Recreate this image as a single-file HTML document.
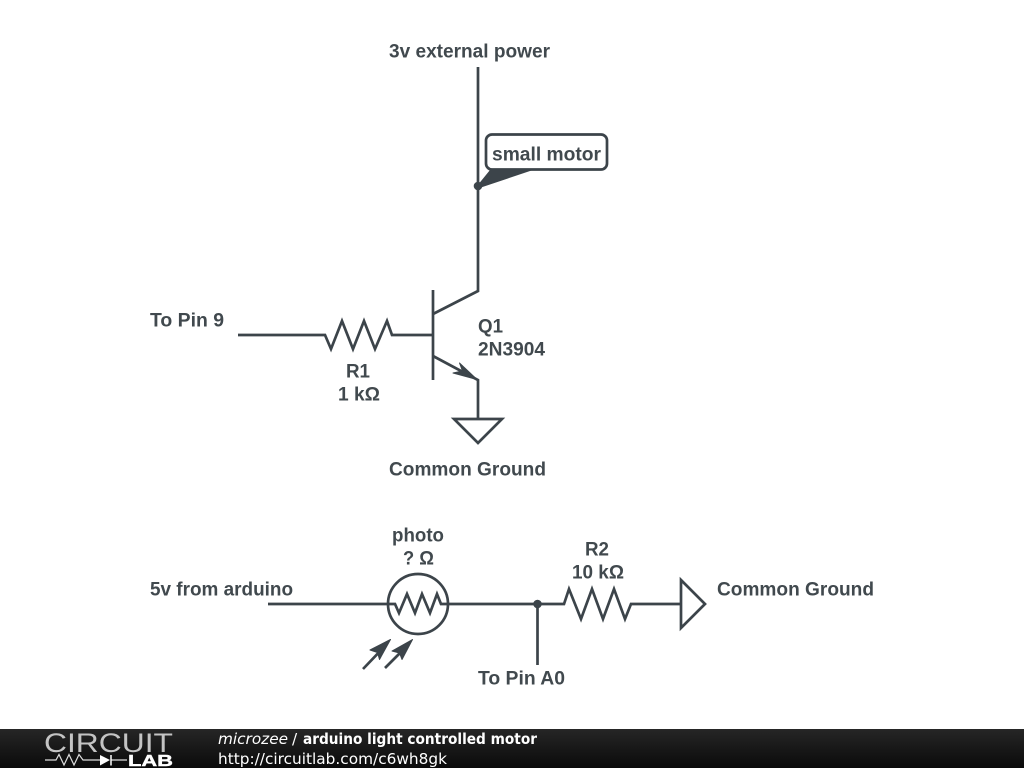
<!DOCTYPE html>
<html><head><meta charset="utf-8"><style>
html,body{margin:0;padding:0;background:#fff;width:1024px;height:768px;overflow:hidden}
svg{display:block}
.t{font-family:"Liberation Sans",sans-serif;font-weight:700;font-size:19px;fill:#41494e}
.f{font-family:"DejaVu Sans",sans-serif;font-size:15.3px;fill:#fff}
</style></head><body>
<svg width="1024" height="768" viewBox="0 0 1024 768" xmlns="http://www.w3.org/2000/svg">
<defs><linearGradient id="g" x1="0" y1="0" x2="0" y2="1"><stop offset="0" stop-color="#262626"/><stop offset="1" stop-color="#0a0a0a"/></linearGradient></defs>
<rect width="1024" height="768" fill="#fff"/>
<g fill="none" stroke="#3c444a" stroke-width="2.7" stroke-linejoin="miter">
<path d="M478 67V291L433 314"/>
<path d="M433 290V380"/>
<path d="M238 335H325L331 349L342 321L353 349L364 321L375 349L387 321L392 335H433"/>
<path d="M433 356L478 380V419"/>
<path d="M454 419H502L478 443Z"/>
<path d="M268 604H395L399 613L407 594L415 613L422 594L430 613L437 594L441 604H564L569 589L581 619L592 589L603 619L614 589L625 619L631 604H681"/>
<circle cx="418" cy="604" r="30"/>
<path d="M537.500 604V665"/>
<path d="M681 580L705 604L681 628Z"/>
<path d="M363 669L385 646M385 668L407 646"/>
<rect x="486" y="134.500" width="121" height="35" rx="6" fill="#fff"/>
</g>
<g fill="#3c444a">
<path d="M477 186L490 170H533L478 188.500Z"/>
<circle cx="478" cy="186" r="4.300"/>
<circle cx="537.500" cy="604" r="4.300"/>
<g stroke="#3c444a" stroke-width="1" stroke-linejoin="round">
<path d="M477 379.500L459.500 363L462.500 371L453 373Z"/>
<path d="M390.500 639.500L370 650L377.500 652.500L379.500 659.500Z"/>
<path d="M412.500 639.500L392 651L399.500 653L402 659.500Z"/>
</g>
</g>
<g transform="translate(0 .4)">
<text class="t" x="389" y="57" textLength="161" lengthAdjust="spacingAndGlyphs">3v external power</text>
<text class="t" x="492" y="160" textLength="109" lengthAdjust="spacingAndGlyphs">small motor</text>
<text class="t" x="150" y="326" textLength="74" lengthAdjust="spacingAndGlyphs">To Pin 9</text>
<text class="t" x="478" y="332" textLength="25" lengthAdjust="spacingAndGlyphs">Q1</text>
<text class="t" x="478" y="355" textLength="67" lengthAdjust="spacingAndGlyphs">2N3904</text>
<text class="t" x="346" y="377" textLength="24" lengthAdjust="spacingAndGlyphs">R1</text>
<text class="t" x="338" y="400" textLength="42" lengthAdjust="spacingAndGlyphs">1 kΩ</text>
<text class="t" x="389" y="475" textLength="157" lengthAdjust="spacingAndGlyphs">Common Ground</text>
<text class="t" x="392" y="541" textLength="52" lengthAdjust="spacingAndGlyphs">photo</text>
<text class="t" x="403" y="564" textLength="31" lengthAdjust="spacingAndGlyphs">? Ω</text>
<text class="t" x="585" y="555" textLength="24" lengthAdjust="spacingAndGlyphs">R2</text>
<text class="t" x="572" y="578" textLength="52" lengthAdjust="spacingAndGlyphs">10 kΩ</text>
<text class="t" x="150" y="595" textLength="143" lengthAdjust="spacingAndGlyphs">5v from arduino</text>
<text class="t" x="717" y="595" textLength="157" lengthAdjust="spacingAndGlyphs">Common Ground</text>
<text class="t" x="478" y="684" textLength="87" lengthAdjust="spacingAndGlyphs">To Pin A0</text>
</g>
<rect x="0" y="729" width="1024" height="39" fill="url(#g)"/>
<text x="44" y="752" font-family="Liberation Sans,sans-serif" font-size="26.500" fill="#c4c4c4" textLength="129" lengthAdjust="spacingAndGlyphs">CIRCUIT</text>
<path d="M45 760H56L59 754.500L64 765L69 754.500L74 765L79 754.500L83 760H100M111 760H127" fill="none" stroke="#ddd" stroke-width="1.200"/>
<path d="M100 755V765.500L110 760Z" fill="#fff"/><path d="M111 755V765.500" stroke="#fff" stroke-width="1.500"/>
<text x="128" y="766" font-family="Liberation Sans,sans-serif" font-weight="700" font-size="15.500" fill="#fff" stroke="#fff" stroke-width=".4" textLength="45" lengthAdjust="spacingAndGlyphs">LAB</text>
<text class="f" x="218" y="744" font-style="italic" textLength="70" lengthAdjust="spacingAndGlyphs">microzee</text>
<text class="f" x="292" y="744">/</text>
<text class="f" x="303" y="744" font-weight="700" textLength="234" lengthAdjust="spacingAndGlyphs">arduino light controlled motor</text>
<text class="f" x="218" y="764" textLength="229" lengthAdjust="spacingAndGlyphs">http://circuitlab.com/c6wh8gk</text>
</svg>
</body></html>
